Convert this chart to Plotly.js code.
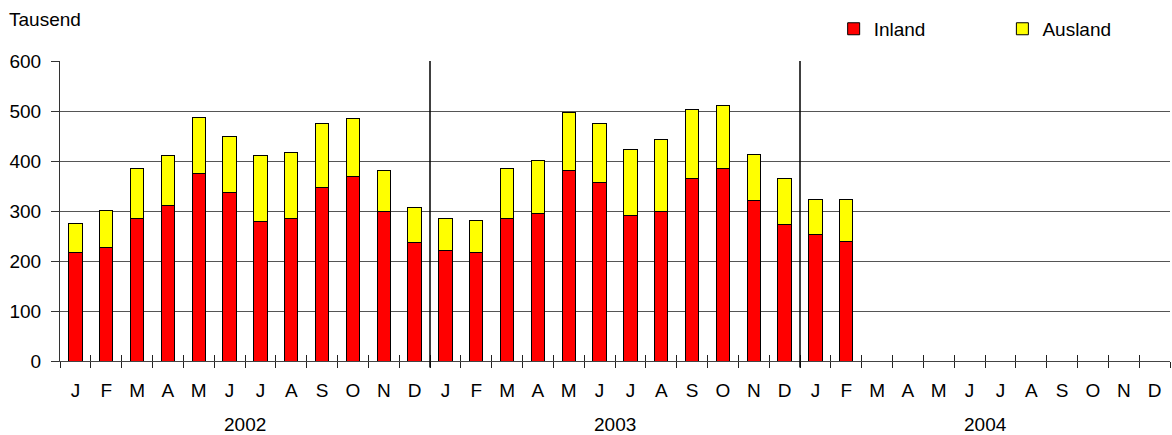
<!DOCTYPE html>
<html><head><meta charset="utf-8">
<script src="https://cdn.plot.ly/plotly-3.0.1.min.js"></script>
<style>html,body{margin:0;padding:0;background:#fff}#chart{width:1172px;height:435px}</style>
</head><body><div id="chart"></div>
<script>
const years = ['2002', '2003', '2004'];
const months = ['J','F','M','A','M','J','J','A','S','O','N','D'];
// Inland (thousand), Jan 2002 .. Feb 2004
const inland = [218, 228, 285, 311, 376, 337, 279, 285, 347, 369, 299, 237,
                222, 218, 285, 295, 382, 357, 292, 299, 366, 385, 321, 273,
                253, 240];
// Total (Inland + Ausland), Jan 2002 .. Feb 2004
const total = [276, 301, 385, 411, 488, 449, 411, 417, 475, 485, 382, 308,
               285, 282, 385, 401, 498, 475, 423, 443, 504, 511, 414, 366,
               324, 324];
const ausland = total.map((t, i) => t - inland[i]);

const cats = [];
const labels = [];
years.forEach(y => months.forEach((m, i) => { cats.push(y + '-' + (i + 1)); labels.push(m); }));
const n = cats.length;

const font = {family: 'Liberation Sans, Arial, sans-serif', size: 19, color: '#000'};
const traces = [
  {type: 'bar', name: 'Inland', x: cats.slice(0, inland.length), y: inland, legend: 'legend',
   marker: {color: '#FF0000', line: {color: '#000', width: 1}}},
  {type: 'bar', name: 'Ausland', x: cats.slice(0, ausland.length), y: ausland, legend: 'legend2',
   marker: {color: '#FFFF00', line: {color: '#000', width: 1}}}
];

const boundaries = [];
for (let k = 0; k <= n; k++) boundaries.push(k - 0.5);

const shapes = [];
for (let yi = 1; yi < years.length; yi++) {
  const xb = yi * months.length - 0.5;
  shapes.push({type: 'line', xref: 'x2', yref: 'paper', x0: xb, x1: xb, y0: -0.022, y1: 1,
               line: {color: '#000', width: 1.5}});
}
const annotations = [{text: 'Tausend', xref: 'paper', yref: 'paper', x: -0.048, y: 1.137,
                      xanchor: 'left', yanchor: 'middle', showarrow: false, font: font}];
years.forEach((y, yi) => annotations.push({
  text: y, xref: 'x2', yref: 'paper', x: yi * months.length + (months.length - 1) / 2,
  y: -0.213, xanchor: 'center', yanchor: 'middle', showarrow: false, font: font}));

const legendBase = {orientation: 'h', y: 1.107, xanchor: 'left', yanchor: 'middle',
                    font: font, bgcolor: 'rgba(0,0,0,0)'};
const layout = {
  width: 1172, height: 435,
  margin: {l: 60, r: 2, t: 61, b: 74},
  paper_bgcolor: '#fff', plot_bgcolor: '#fff',
  barmode: 'stack', bargap: 0.57,
  font: font,
  showlegend: true,
  legend: Object.assign({x: 0.697}, legendBase),
  legend2: Object.assign({x: 0.849}, legendBase),
  xaxis: {type: 'category', categoryorder: 'array', categoryarray: cats,
          range: [-0.5, n - 0.5], tickmode: 'array', tickvals: cats, ticktext: labels,
          tickson: 'boundaries', ticks: 'outside', ticklen: 6, tickcolor: '#222', tickwidth: 1,
          showline: true, linecolor: '#444', linewidth: 1, showgrid: false,
          ticklabelstandoff: 12, tickfont: font, fixedrange: true},
  xaxis2: {overlaying: 'x', anchor: 'y', type: 'linear', range: [-0.5, n - 0.5],
           tickmode: 'array', tickvals: boundaries, ticks: 'inside', ticklen: 6,
           tickcolor: '#222', tickwidth: 1, showticklabels: false, showgrid: false,
           zeroline: false, showline: false},
  yaxis: {range: [0, 600], tickmode: 'linear', tick0: 0, dtick: 100,
          ticks: 'outside', ticklen: 8, tickcolor: '#333', showline: true, linecolor: '#333',
          linewidth: 1, showgrid: true, gridcolor: '#555', gridwidth: 1, zeroline: false,
          ticklabelstandoff: 6, tickfont: font},
  shapes: shapes,
  annotations: annotations
};
Plotly.newPlot('chart', traces, layout, {displayModeBar: false, staticPlot: true});
</script></body></html>
